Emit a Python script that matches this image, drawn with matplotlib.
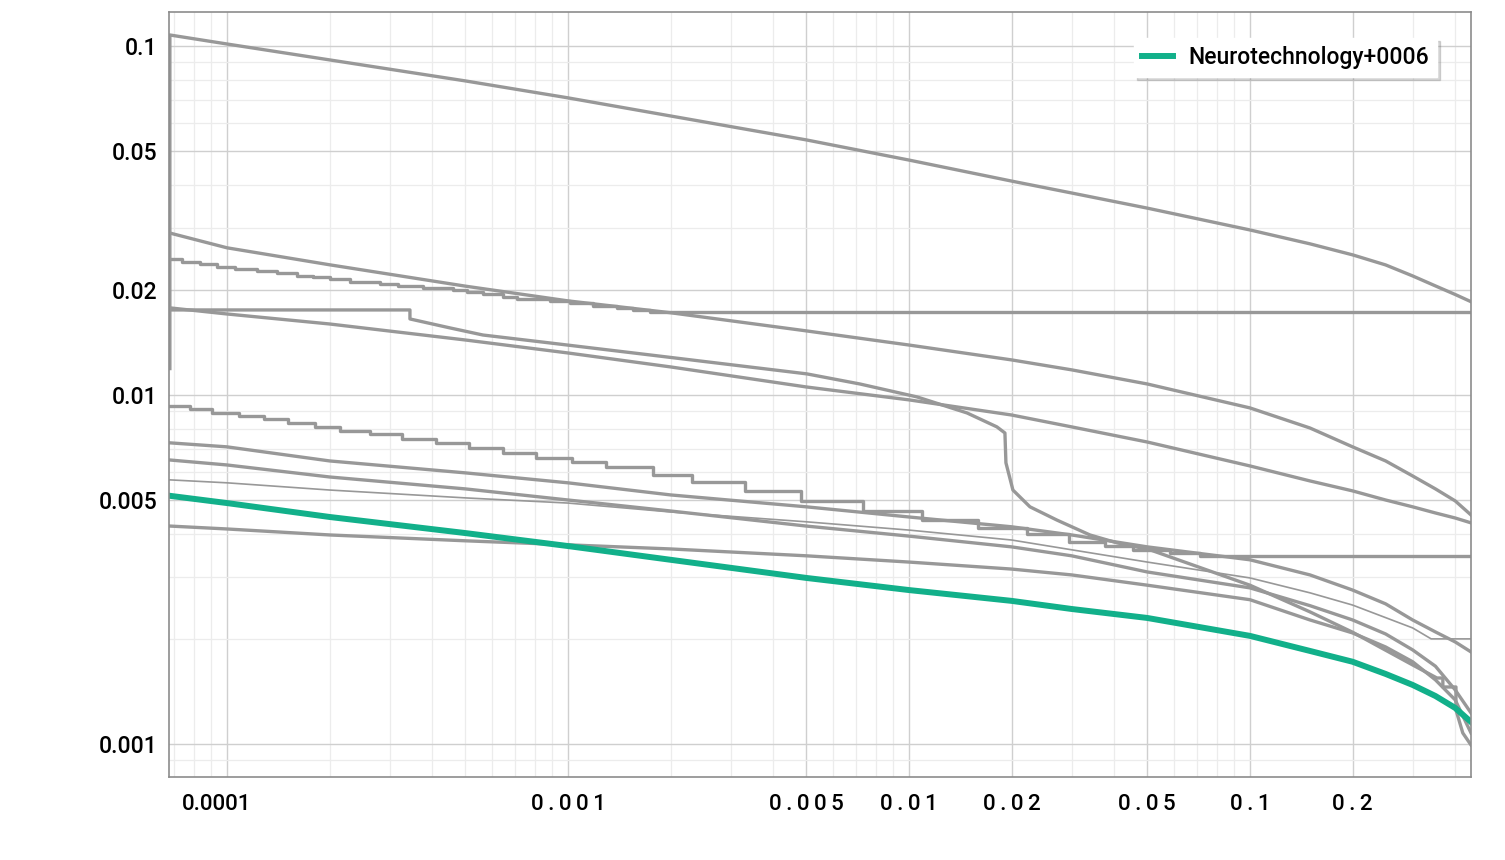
import matplotlib
matplotlib.use('Agg')
import matplotlib.pyplot as plt
import matplotlib.transforms as mtransforms
from matplotlib.ticker import FixedLocator, LogLocator, NullFormatter

plt.rcParams['font.family'] = ['Roboto', 'DejaVu Sans']

# false match rate grid shared by the smooth curves
fmr = [6.8e-5, 1e-4, 2e-4, 5e-4, 1e-3, 2e-3, 5e-3, 1e-2, 2e-2, 3e-2, 5e-2,
       0.1, 0.15, 0.2, 0.25, 0.3, 0.35, 0.4, 0.445]

# gray comparison algorithms (false non-match rate)
a_fmr = [6.8e-5] + fmr
a_fnmr = [0.0119, 0.1075, 0.1013, 0.0912, 0.0794, 0.0710, 0.0630, 0.0538, 0.0471,
          0.0410, 0.0379, 0.0343, 0.0297, 0.0271, 0.0252, 0.02358, 0.02193,
          0.02053, 0.0194, 0.0185]
b_fnmr = [0.0291, 0.0264, 0.0236, 0.0205, 0.0186, 0.0172, 0.01526, 0.0139,
          0.0126, 0.0118, 0.01075, 0.00918, 0.00804, 0.0071, 0.00647, 0.00586,
          0.00538, 0.00497, 0.00453]
e_fnmr = [0.01776, 0.01706, 0.01597, 0.01437, 0.01319, 0.01203, 0.01054,
          0.00968, 0.00876, 0.0081, 0.00733, 0.00626, 0.00567, 0.00531, 0.005,
          0.00478, 0.00459, 0.00444, 0.0043]
g_fnmr = [0.00729, 0.0071, 0.00647, 0.00598, 0.0056, 0.00517, 0.00478,
          0.00447, 0.00419, 0.00397, 0.00367, 0.00337, 0.00305, 0.00276,
          0.00252, 0.002266, 0.002094, 0.00196, 0.001835]
h_fnmr = [0.00651, 0.0063, 0.00582, 0.00538, 0.005, 0.00465, 0.00421,
          0.00394, 0.00367, 0.00346, 0.00311, 0.0028, 0.00249, 0.002266,
          0.002066, 0.00186, 0.00167, 0.001428, 0.001227]
j_fnmr = [0.00421, 0.00413, 0.00397, 0.00382, 0.00372, 0.00362, 0.00346,
          0.00332, 0.00317, 0.00305, 0.00285, 0.00259, 0.002266, 0.00208,
          0.001896, 0.00172, 0.001526, 0.001337, 0.001075]

i_fmr = [6.8e-5, 1e-4, 2e-4, 5e-4, 1e-3, 2e-3, 5e-3, 1e-2, 2e-2, 3e-2, 5e-2,
         0.1, 0.15, 0.2, 0.3, 0.34, 0.445]
i_fnmr = [0.00571, 0.0056, 0.00534, 0.00507, 0.0049, 0.00462, 0.00433,
          0.0041, 0.00384, 0.0036, 0.00332, 0.00299, 0.00271, 0.0025,
          0.00215, 0.002, 0.002]

# stepped curve that levels off near 0.0173
c_fmr = [6.76e-5, 7.38e-5, 8.33e-5, 9.35e-5, 1.055e-4, 1.225e-4, 1.401e-4,
         1.604e-4, 1.788e-4, 2.005e-4, 2.294e-4, 2.81e-4, 3.17e-4, 3.76e-4,
         4.6e-4, 5.06e-4, 5.63e-4, 6.45e-4, 7.09e-4, 8.86e-4, 1.014e-3,
         1.184e-3, 1.392e-3, 1.551e-3, 1.74e-3, 0.445]
c_fnmr = [0.02454, 0.02404, 0.02373, 0.02326, 0.02296, 0.02266, 0.02237,
          0.02193, 0.02178, 0.0215, 0.02108, 0.0208, 0.02053, 0.02026, 0.02,
          0.01973, 0.01948, 0.01909, 0.01884, 0.01859, 0.01835, 0.01799,
          0.01776, 0.01752, 0.01729, 0.01729]

# curve with flat start and sharp drop near 0.02
d_fmr = [6.76e-5, 3.44e-4, 3.44e-4, 4.51e-4, 5.63e-4, 8.86e-4, 1.74e-3,
         5.02e-3, 7.18e-3, 1.056e-2, 1.48e-2, 1.811e-2, 1.912e-2, 1.925e-2,
         2.018e-2, 2.264e-2, 2.716e-2, 3.395e-2, 4.07e-2, 5.09e-2, 0.1, 0.15,
         0.2, 0.3, 0.3535, 0.368, 0.368, 0.402, 0.402, 0.421, 0.445]
d_fnmr = [0.01752, 0.01752, 0.01651, 0.01556, 0.01485, 0.01409, 0.01302,
          0.01149, 0.01075, 0.00987, 0.00888, 0.0081, 0.00778, 0.00639,
          0.00534, 0.00478, 0.00438, 0.00397, 0.00377, 0.0036, 0.00285,
          0.00239, 0.00209, 0.001684, 0.001545, 0.001545, 0.001456, 0.001456,
          0.001252, 0.001075, 0.000993]

# stepped curve that levels off near 0.0035
f_fmr = [6.76e-5, 7.79e-5, 9.04e-5, 1.084e-4, 1.284e-4, 1.51e-4, 1.812e-4,
         2.145e-4, 2.627e-4, 3.26e-4, 4.1e-4, 5.13e-4, 6.45e-4, 8.06e-4,
         1.027e-3, 1.292e-3, 1.776e-3, 2.31e-3, 3.3e-3, 4.82e-3, 7.33e-3,
         1.092e-2, 1.593e-2, 2.218e-2, 2.945e-2, 3.757e-2, 4.54e-2, 5.83e-2,
         7.14e-2, 0.445]
f_fnmr = [0.0093, 0.00912, 0.00888, 0.00871, 0.00853, 0.00832, 0.0081,
          0.00789, 0.00773, 0.00748, 0.00729, 0.00705, 0.00682, 0.0066,
          0.00643, 0.00622, 0.0059, 0.00563, 0.00531, 0.00497, 0.00465,
          0.00438, 0.00416, 0.004, 0.00379, 0.00369, 0.0036, 0.00353,
          0.00346, 0.00346]

# highlighted algorithm
neuro_fnmr = [0.00514, 0.0049, 0.00447, 0.00402, 0.00369, 0.00337, 0.00299,
              0.00276, 0.00257, 0.002436, 0.002296, 0.00204, 0.001847,
              0.00172, 0.001587, 0.001476, 0.001372, 0.001268, 0.001156]

x_ticks = [0.0001, 0.001, 0.005, 0.01, 0.02, 0.05, 0.1, 0.2]
x_labels = ['0.0001', '0.001', '0.005', '0.01', '0.02', '0.05', '0.1', '0.2']
y_ticks = [0.001, 0.005, 0.01, 0.02, 0.05, 0.1]
y_labels = ['0.001', '0.005', '0.01', '0.02', '0.05', '0.1']

gray = '#989898'
green = '#12b08a'

fig = plt.figure(figsize=(15.05, 8.6), dpi=100)
ax = fig.add_axes([169 / 1505, 1 - 777 / 860, 1302 / 1505, 765 / 860])
ax.set_xscale('log')
ax.set_yscale('log')

ax.plot(a_fmr, a_fnmr, color=gray, lw=2.4)
ax.plot(fmr, b_fnmr, color=gray, lw=2.4)
ax.plot(c_fmr, c_fnmr, color=gray, lw=2.4, drawstyle='steps-post')
ax.plot(d_fmr, d_fnmr, color=gray, lw=2.4)
ax.plot(fmr, e_fnmr, color=gray, lw=2.4)
ax.plot(f_fmr, f_fnmr, color=gray, lw=2.4, drawstyle='steps-post')
ax.plot(fmr, g_fnmr, color=gray, lw=2.4)
ax.plot(fmr, h_fnmr, color=gray, lw=2.4)
ax.plot(i_fmr, i_fnmr, color=gray, lw=1.2)
ax.plot(fmr, j_fnmr, color=gray, lw=2.4)
ax.plot(fmr, neuro_fnmr, color=green, lw=4.3, label='Neurotechnology+0006')

ax.set_xlim(6.76e-5, 0.445)
ax.set_ylim(8.04e-4, 0.1251)

# letter-spaced x labels, as in the original
ax.xaxis.set_major_locator(FixedLocator(x_ticks))
ax.set_xticklabels(['\u2009'.join(s) if s != '0.0001' else s for s in x_labels])
ax.yaxis.set_major_locator(FixedLocator(y_ticks))
ax.set_yticklabels(y_labels)
ax.xaxis.set_minor_locator(LogLocator(base=10, subs=range(1, 10), numticks=50))
ax.yaxis.set_minor_locator(LogLocator(base=10, subs=range(1, 10), numticks=50))
ax.xaxis.set_minor_formatter(NullFormatter())
ax.yaxis.set_minor_formatter(NullFormatter())

ax.tick_params(which='both', length=0)
ax.tick_params(axis='x', pad=12, labelsize=16)
ax.tick_params(axis='y', pad=8.5, labelsize=16.5)
for lab in ax.get_xticklabels() + ax.get_yticklabels():
    lab.set_fontweight('medium')
# first x label sits a little left of its tick in the original
first = ax.get_xticklabels()[0]
first.set_transform(first.get_transform() +
                    mtransforms.ScaledTranslation(-10 / 100, 0, fig.dpi_scale_trans))

ax.grid(which='major', color='#cfcfcf', lw=1.0)
ax.grid(which='minor', color='#ececec', lw=0.9)
ax.set_axisbelow(True)
for s in ax.spines.values():
    s.set_color('#8c8c8c')
    s.set_linewidth(1.2)

leg = ax.legend(loc='upper right', bbox_to_anchor=(1 - 34 / 1302, 1 - 26 / 765),
                borderaxespad=0, fancybox=False, framealpha=1, edgecolor='white',
                shadow={'color': '#666666', 'alpha': 0.25}, handlelength=1.35,
                handletextpad=0.65, borderpad=0.35,
                prop={'size': 16.5, 'weight': 'medium'})

plt.savefig('out.png', dpi=100)
